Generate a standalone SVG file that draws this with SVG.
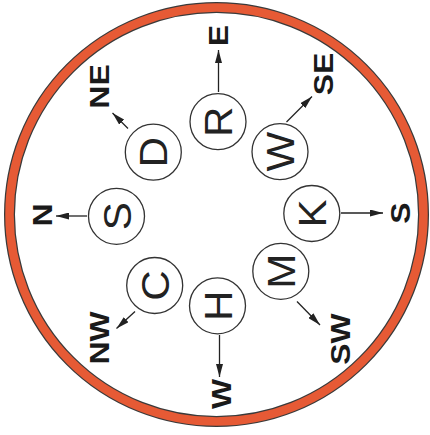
<svg xmlns="http://www.w3.org/2000/svg" width="430" height="435" viewBox="0 0 430 435">
  <style>
    .ring-edge { fill: none; stroke: #3a3a3a; stroke-width: 11; }
    .ring { fill: none; stroke: #e65a35; stroke-width: 8.5; }
    .node circle { fill: #ffffff; stroke: #333333; stroke-width: 1.3; }
    .node text { font-family: "Liberation Sans", Arial, sans-serif; font-size: 39px; fill: #222222; text-anchor: middle; }
    .conn line { stroke: #222222; stroke-width: 1.3; marker-end: url(#arrow); }
    .lbl { font-family: "Liberation Sans", Arial, sans-serif; font-weight: bold; font-size: 28.5px; fill: #1a1a1a; text-anchor: middle; }
  </style>
  <defs>
    <marker id="arrow" viewBox="0 0 13 7" refX="13" refY="3.5" markerWidth="13" markerHeight="7" markerUnits="userSpaceOnUse" orient="auto">
      <path d="M0,0 L13,3.5 L0,7 Z" fill="#222222"/>
    </marker>
  </defs>
  <rect width="430" height="435" fill="#ffffff"/>
  <g id="ring">
    <circle class="ring-edge" cx="216.5" cy="214.5" r="207"/>
    <circle class="ring" cx="216.5" cy="214.5" r="207"/>
  </g>
  <g id="connectors" class="conn">
    <line x1="218.5" y1="92" x2="218.5" y2="50"/>
    <line x1="286.5" y1="122" x2="312" y2="96.5"/>
    <line x1="128" y1="128.5" x2="112.5" y2="113"/>
    <line x1="87" y1="216" x2="56" y2="216"/>
    <line x1="341" y1="213" x2="383" y2="213"/>
    <line x1="135" y1="311.5" x2="116.5" y2="328.5"/>
    <line x1="219.5" y1="335" x2="219.5" y2="377"/>
    <line x1="297" y1="301.5" x2="320" y2="325"/>
  </g>
  <g id="node-R" class="node"><circle cx="218" cy="121.7" r="28"/><text transform="translate(218 121.7) rotate(-90) scale(1.08 1)" x="0" y="14">R</text></g>
  <g id="node-W" class="node"><circle cx="280" cy="151.7" r="28"/><text transform="translate(280 151.7) rotate(-90) scale(1.08 1)" x="0" y="14">W</text></g>
  <g id="node-K" class="node"><circle cx="311.8" cy="213.5" r="28"/><text transform="translate(311.8 213.5) rotate(-90) scale(1.08 1)" x="0" y="14">K</text></g>
  <g id="node-M" class="node"><circle cx="280.8" cy="271.3" r="28"/><text transform="translate(280.8 271.3) rotate(-90) scale(1.08 1)" x="0" y="14">M</text></g>
  <g id="node-H" class="node"><circle cx="217.5" cy="305.8" r="28"/><text transform="translate(217.5 305.8) rotate(-90) scale(1.08 1)" x="0" y="14">H</text></g>
  <g id="node-C" class="node"><circle cx="154.7" cy="285.5" r="28"/><text transform="translate(154.7 285.5) rotate(-90) scale(1.08 1)" x="0" y="14">C</text></g>
  <g id="node-S" class="node"><circle cx="116.5" cy="216.3" r="28"/><text transform="translate(116.5 216.3) rotate(-90) scale(1.08 1)" x="0" y="14">S</text></g>
  <g id="node-D" class="node"><circle cx="153.3" cy="152.2" r="28"/><text transform="translate(153.3 152.2) rotate(-90) scale(1.08 1)" x="0" y="14">D</text></g>
  <g id="labels">
    <text class="lbl" transform="translate(218.3 35.5) rotate(-90) scale(1.12 1)" x="0" y="10">E</text>
    <text class="lbl" transform="translate(322.5 74) rotate(-90) scale(1.12 1)" x="0" y="10">SE</text>
    <text class="lbl" transform="translate(98.5 86.5) rotate(-90) scale(1.12 1)" x="0" y="10">NE</text>
    <text class="lbl" transform="translate(41.5 215) rotate(-90) scale(1.12 1)" x="0" y="10">N</text>
    <text class="lbl" transform="translate(400 213) rotate(-90) scale(1.12 1)" x="0" y="10">S</text>
    <text class="lbl" transform="translate(98.5 338) rotate(-90) scale(1.12 1)" x="0" y="10">NW</text>
    <text class="lbl" transform="translate(221 394) rotate(-90) scale(1.12 1)" x="0" y="10">W</text>
    <text class="lbl" transform="translate(340 339) rotate(-90) scale(1.12 1)" x="0" y="10">SW</text>
  </g>
</svg>
